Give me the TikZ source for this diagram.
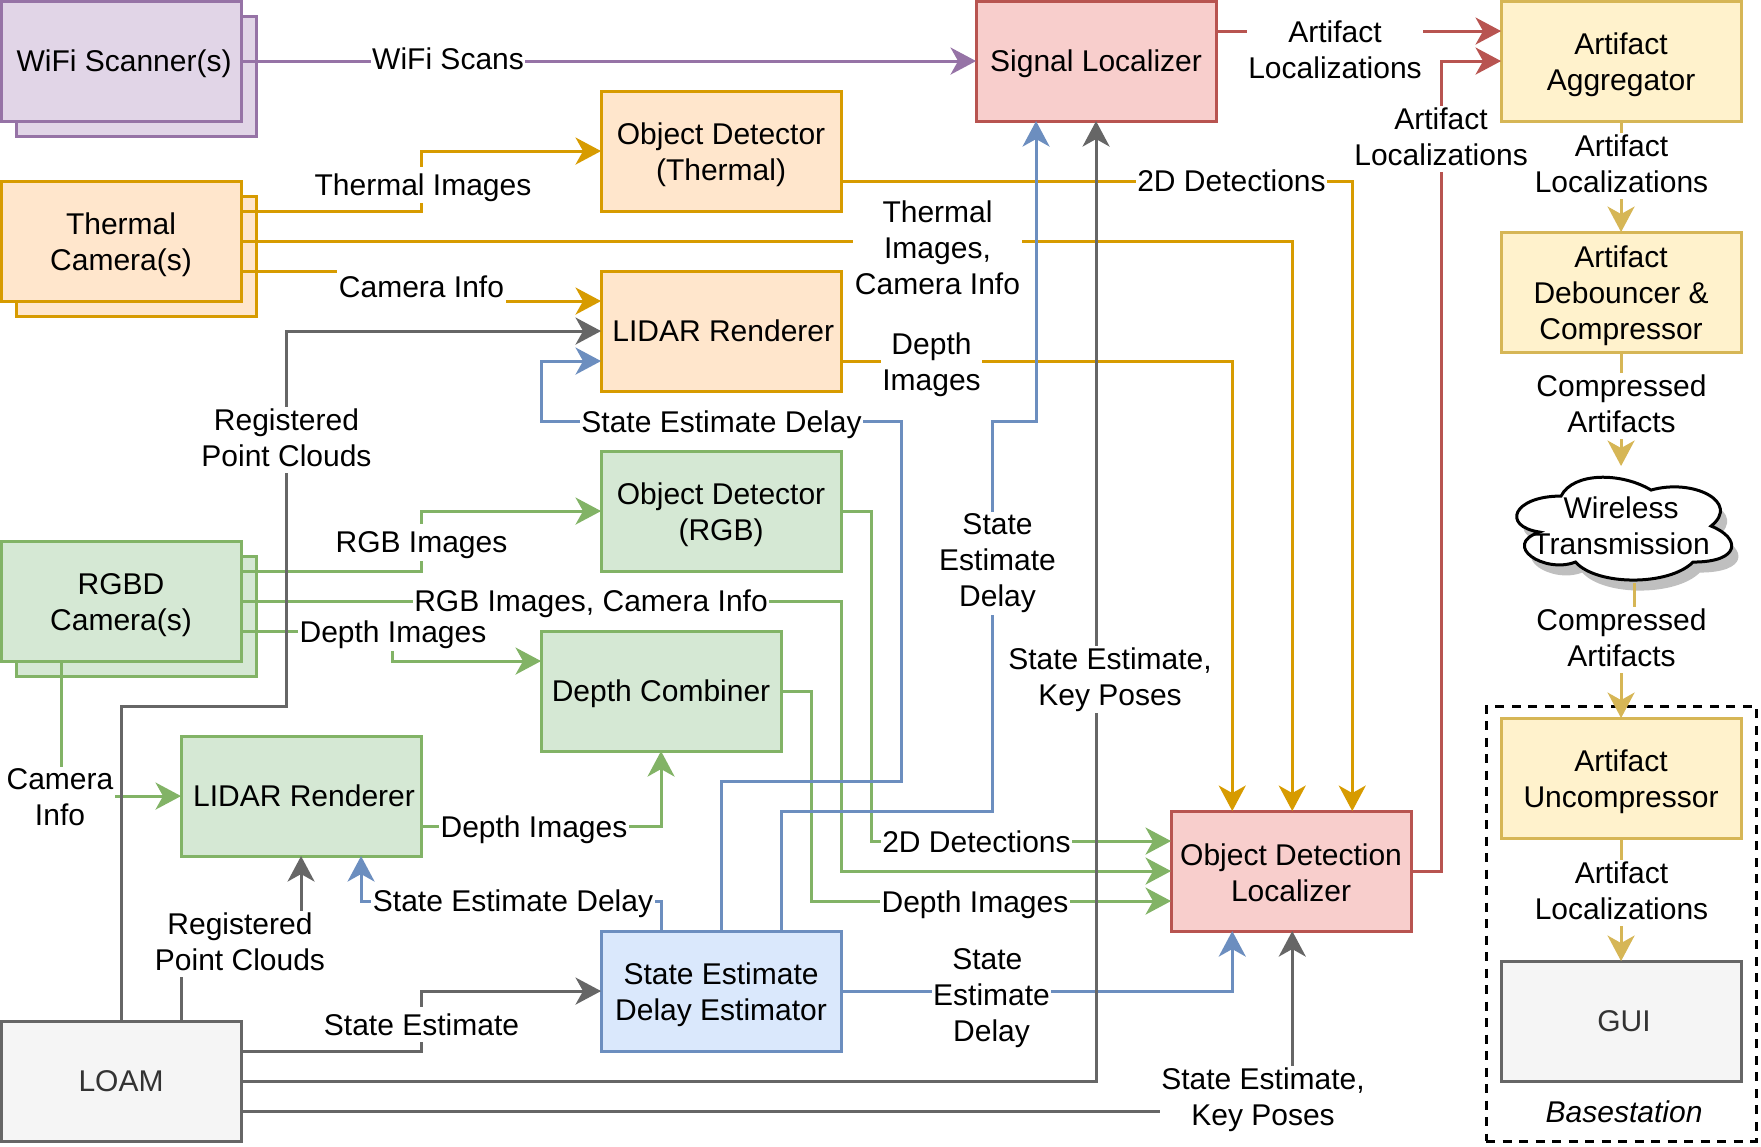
\documentclass[tikz,border=0pt]{standalone}
\usepackage{fontspec}
\setmainfont{Liberation Sans}
\usetikzlibrary{arrows.meta}

\definecolor{purpfill}{HTML}{E1D5E7}\definecolor{purpline}{HTML}{9673A6}
\definecolor{orngfill}{HTML}{FFE6CC}\definecolor{orngline}{HTML}{D79B00}
\definecolor{grnfill}{HTML}{D5E8D4}\definecolor{grnline}{HTML}{82B366}
\definecolor{redfill}{HTML}{F8CECC}\definecolor{redline}{HTML}{B85450}
\definecolor{blufill}{HTML}{DAE8FC}\definecolor{bluline}{HTML}{6C8EBF}
\definecolor{ylwfill}{HTML}{FFF2CC}\definecolor{ylwline}{HTML}{D6B656}
\definecolor{gryfill}{HTML}{F5F5F5}\definecolor{gryline}{HTML}{666666}
\definecolor{grytext}{HTML}{333333}

% pushes the lines of a block down a little
\newcommand{\lift}{\rule{0pt}{20pt}}

\tikzset{
    txtlines/.style={font=\fontsize{20pt}{24pt}\selectfont, align=center,
        execute at begin node={\rule{0pt}{18pt}},
        execute at end node={\rule[-3.5pt]{0pt}{3.5pt}}},
    block/.style={txtlines, draw, line width=2pt, anchor=north west, inner sep=0pt, outer sep=0pt,
        minimum width=160pt, minimum height=80pt},
    purpblock/.style={block, draw=purpline, fill=purpfill},
    orngblock/.style={block, draw=orngline, fill=orngfill},
    grnblock/.style={block, draw=grnline, fill=grnfill},
    redblock/.style={block, draw=redline, fill=redfill},
    blublock/.style={block, draw=bluline, fill=blufill},
    ylwblock/.style={block, draw=ylwline, fill=ylwfill},
    gryblock/.style={block, draw=gryline, fill=gryfill, text=grytext},
    lbl/.style={txtlines, fill=white, inner xsep=1pt, inner ysep=1pt, xshift=-0.7pt},
    conn/.style={line width=2pt, -{Stealth[length=17pt, width=18pt, inset=5pt]}},
    plainconn/.style={line width=2pt},
}

\begin{document}
\begin{tikzpicture}[x=1pt, y=-1pt]
    \useasboundingbox (-0.7,-0.7) rectangle (1173.3,763.3);

    % Basestation frame
    \node[draw, dashed, line width=2pt, dash pattern=on 6pt off 5pt, anchor=north west, inner sep=0pt, outer sep=0pt,
        minimum width=180pt, minimum height=290pt] (basestation) at (990,470) {};

    % Sensors (stacked)
    \node[purpblock] (wifiback) at (10,10) {};
    \node[purpblock] (wifi) at (0,0) {\hspace{4pt}WiFi Scanner(s)};
    \node[orngblock] (thermalback) at (10,130) {};
    \node[orngblock] (thermal) at (0,120) {\lift Thermal\\Camera(s)};
    \node[grnblock] (rgbdback) at (10,370) {};
    \node[grnblock] (rgbd) at (0,360) {\lift RGBD\\Camera(s)};
    \node[gryblock] (loam) at (0,680) {LOAM};

    % Processing blocks
    \node[orngblock] (odthermal) at (400,60) {\lift Object Detector\\(Thermal)};
    \node[orngblock] (lidarthermal) at (400,180) {\hspace{3pt}LIDAR Renderer};
    \node[grnblock] (odrgb) at (400,300) {\lift Object Detector\\(RGB)};
    \node[grnblock] (combiner) at (360,420) {Depth Combiner};
    \node[grnblock] (lidarrgb) at (120,490) {\hspace{4pt}LIDAR Renderer};
    \node[blublock] (delayest) at (400,620) {\lift State Estimate\\Delay Estimator};
    \node[redblock] (signal) at (650,0) {Signal Localizer};
    \node[redblock] (odloc) at (780,540) {\lift Object Detection\\Localizer};

    % Artifact chain
    \node[ylwblock] (aggregator) at (1000,0) {\lift Artifact\\Aggregator};
    \node[ylwblock] (debouncer) at (1000,154) {\lift Artifact\\Debouncer \&\\Compressor};
    \node[ylwblock] (uncompressor) at (1000,478) {\lift Artifact\\Uncompressor};
    \node[gryblock] (gui) at (1000,640) {\hspace{4pt}GUI};

    % Cloud
    \foreach \cx/\cy/\cdraw/\cfill in {1004.5/317/none/black!25, 1000/310/black/white}
        \draw[line width=2pt, draw=\cdraw, fill=\cfill, shift={(\cx,\cy)}]
            (40,20) .. controls (8,20) and (0,40) .. (25.6,44)
            .. controls (0,52.8) and (28.8,72) .. (49.6,64)
            .. controls (64,80) and (112,80) .. (128,64)
            .. controls (160,64) and (160,48) .. (140,40)
            .. controls (160,24) and (128,8) .. (100,16)
            .. controls (80,4) and (48,4) .. (40,20) -- cycle;
    \node[txtlines, anchor=north west, inner sep=0pt, outer sep=0pt, minimum width=160pt, minimum height=80pt] (wireless) at (1000,310) {\rule{0pt}{17.5pt}Wireless\\Transmission};

    % Orange connectors
    \draw[conn, draw=orngline] ([yshift=20pt]thermal.east) -| (280,100) -- (odthermal.west);
    \draw[conn, draw=orngline] (thermal.east) -| ([xshift=0.8pt]odloc.north);
    \draw[conn, draw=orngline] ([yshift=-20pt]thermal.east) -| (280,200) -- ([yshift=20pt]lidarthermal.west);
    \draw[conn, draw=orngline] ([yshift=-20pt]odthermal.east) -| ([xshift=40.8pt]odloc.north);
    \draw[conn, draw=orngline] ([yshift=-20pt]lidarthermal.east) -| ([xshift=-39.2pt]odloc.north);

    % Green connectors
    \draw[conn, draw=grnline] ([yshift=20pt]rgbd.east) -| (280,340) -- (odrgb.west);
    \draw[conn, draw=grnline] (rgbd.east) -| (560,580) -- (odloc.west);
    \draw[conn, draw=grnline] ([yshift=-20pt]rgbd.east) -| (261,440) -- ([yshift=20pt]combiner.west);
    \draw[conn, draw=grnline] (40,440) |- (lidarrgb.west);
    \draw[conn, draw=grnline] ([yshift=-20pt]lidarrgb.east) -| (combiner.south);
    \draw[conn, draw=grnline] (odrgb.east) -| (580,560) -- ([yshift=20pt]odloc.west);
    \draw[conn, draw=grnline] (combiner.east) -| (540,600) -- ([yshift=-20pt]odloc.west);

    % Blue connectors
    \draw[conn, draw=bluline] (delayest.north) |- (600,520) |- (360,280) |- ([yshift=-20pt]lidarthermal.west);
    \draw[conn, draw=bluline] ([xshift=40pt]delayest.north) |- (661,540) |- (690,280) -- ([xshift=-40pt]signal.south);
    \draw[conn, draw=bluline] ([xshift=-40pt]delayest.north) |- (240,600) -- ([xshift=40pt]lidarrgb.south);
    \draw[conn, draw=bluline] (delayest.east) -| ([xshift=-39.2pt]odloc.south);

    % Gray connectors
    \draw[conn, draw=gryline] (loam.north) |- (190,470) |- (lidarthermal.west);
    \draw[conn, draw=gryline] ([xshift=40pt]loam.north) |- (200,627) -- (lidarrgb.south);
    \draw[conn, draw=gryline] ([yshift=20pt]loam.east) -| (280,660) -- (delayest.west);
    \draw[conn, draw=gryline] (loam.east) -| (signal.south);
    \draw[conn, draw=gryline] ([yshift=-20pt]loam.east) -| ([xshift=0.8pt]odloc.south);

    % Purple and red connectors
    \draw[conn, draw=purpline] (wifi.east) -- (signal.west);
    \draw[conn, draw=redline] ([yshift=20pt]signal.east) -- ([yshift=20pt]aggregator.west);

    % Yellow chain
    \draw[conn, draw=ylwline] (aggregator.south) -- (debouncer.north);
    \draw[conn, draw=ylwline] (debouncer.south) -- (wireless.north);
    \draw[conn, draw=ylwline] ([xshift=9pt, yshift=2pt]wireless.south) |- (1080,425) -- (uncompressor.north);
    \draw[conn, draw=ylwline] (uncompressor.south) -- (gui.north);

    % Labels
    \node[lbl, xshift=0.7pt] (lblwifi) at (298,38.5) {WiFi Scans};
    \node[lbl] (lblthermal) at (282,122.5) {Thermal Images};
    \node[lbl, inner ysep=2pt] (lblcaminfo) at (281,190.5) {Camera Info};
    \node[lbl] (lblcloudsa) at (191,292.5) {Registered\\Point Clouds};
    \node[lbl] (lblthermalinfo) at (625,166) {Thermal\\Images,\\Camera Info};
    \node[lbl] (lbldetthermal) at (821,120) {2D Detections};
    \node[lbl] (lbldepththermal) at (621,242.5) {Depth\\Images};
    \node[lbl] (lbldelaya) at (481,281) {State Estimate Delay};
    \node[lbl] (lblrgb) at (281,361) {RGB Images};
    \node[lbl] (lblrgbinfo) at (394,400) {RGB Images, Camera Info};
    \node[lbl] (lbldepthrgbd) at (262,421) {Depth Images};
    \node[lbl] (lbldelayb) at (665,375) {State\\Estimate\\Delay};
    \node[lbl] (lblposesa) at (740,452.5) {State Estimate,\\Key Poses};
    \node[lbl] (lblcaminfob) at (40,532.5) {Camera\\Info};
    \node[lbl] (lbldepthlidar) at (356,551) {Depth Images};
    \node[lbl] (lbldetrgb) at (651,560.5) {2D Detections};
    \node[lbl] (lbldepthcomb) at (650,601) {Depth Images};
    \node[lbl] (lbldelayc) at (342,600) {State Estimate Delay};
    \node[lbl] (lblcloudsb) at (160,628.5) {Registered\\Point Clouds};
    \node[lbl] (lbldelayd) at (661,665) {State\kern5.5pt\\Estimate\\Delay};
    \node[lbl] (lblstate) at (281,682.5) {State Estimate};
    \node[lbl] (lblposesb) at (842,732.5) {State Estimate,\\Key Poses};
    \node[lbl] (lblarta) at (890,34) {Artifact\\Localizations};
    \node[lbl, fill=none, xshift=0.7pt] (lblartb) at (960,92) {Artifact\\Localizations};
    \node[lbl] (lblartc) at (1081,110) {Artifact\\Localizations};
    \node[lbl] (lblcompa) at (1081,270) {Compressed\\Artifacts};
    \node[lbl] (lblcompb) at (1081,426) {Compressed\\Artifacts};
    \node[lbl] (lblartd) at (1081,594.5) {Artifact\\Localizations};
    \node[txtlines, font=\fontsize{20pt}{24pt}\selectfont\itshape] (lblbase) at (1082,740.5) {Basestation};

    % Second localization line, broken by its label
    \draw[plainconn, draw=redline] (odloc.east) -| (lblartb.south);
    \draw[conn, draw=redline] (lblartb.north) |- (aggregator.west);
\end{tikzpicture}
\end{document}
